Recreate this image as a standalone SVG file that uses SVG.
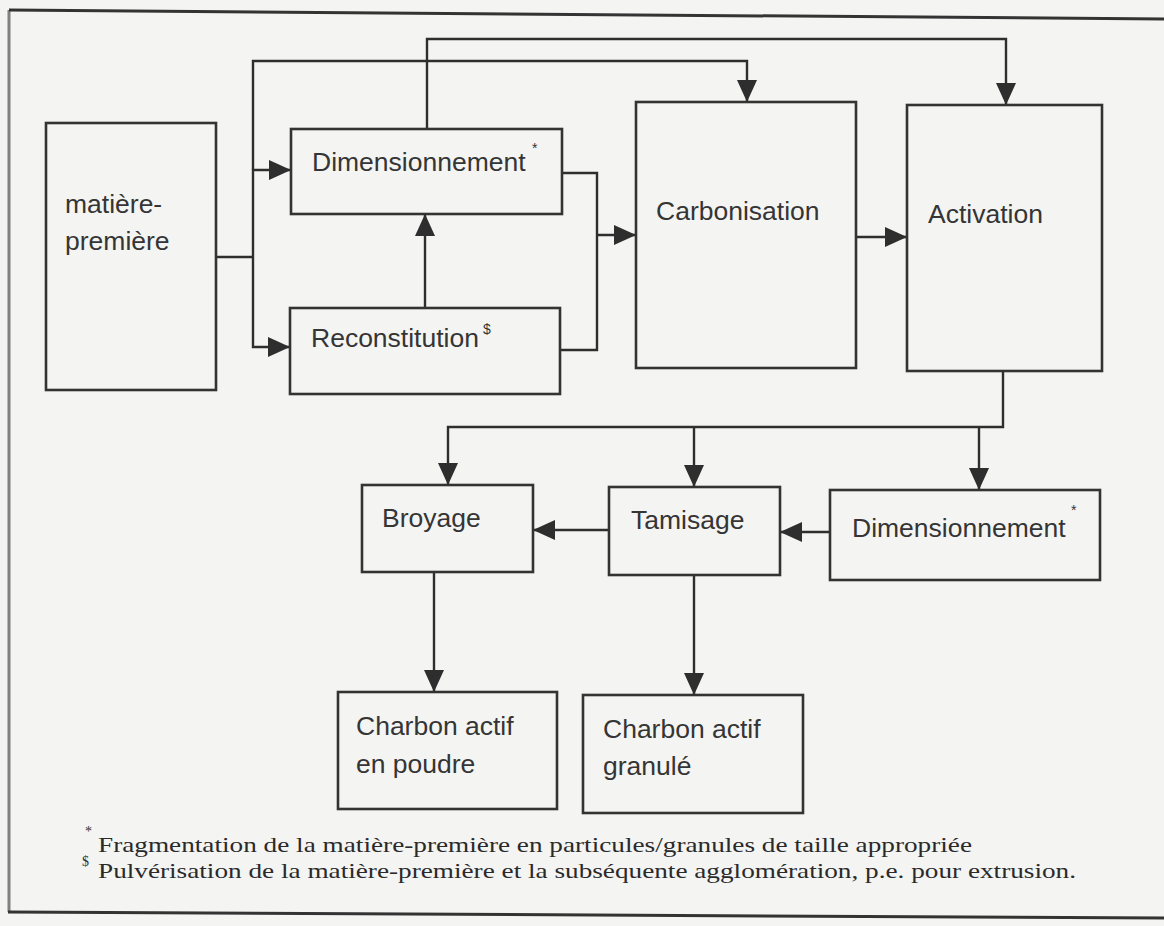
<svg xmlns="http://www.w3.org/2000/svg" width="1164" height="926" viewBox="0 0 1164 926">
<defs>
<marker id="ah" markerUnits="userSpaceOnUse" markerWidth="22" markerHeight="20" refX="22" refY="10" orient="auto">
<path d="M0,0 L22,10 L0,20 z" fill="#2e2e2e"/>
</marker>
<style>
.box{fill:none;stroke:#333;stroke-width:2.6}
.lbl{font-family:"Liberation Sans",Arial,sans-serif;font-size:26.5px;fill:#353535}
.sup{font-family:"Liberation Sans",Arial,sans-serif;font-size:14px;fill:#333}
.c{fill:none;stroke:#2e2e2e;stroke-width:2.4}
.a{marker-end:url(#ah)}
.fn{font-family:"Liberation Serif","Times New Roman",serif;font-size:22px;fill:#2a2a2a}
.fs{font-family:"Liberation Serif","Times New Roman",serif;font-size:14px;fill:#333}
.frame{stroke:#333;stroke-width:3;fill:none}
</style>
</defs>
<rect width="1164" height="926" fill="#f4f4f3"/>
<g id="frame">
<path class="frame" d="M9,10 L1164,19"/>
<path class="frame" d="M9,10 L9,912" stroke-opacity="0.6"/>
<path class="frame" d="M8,912 L1164,918"/>
</g>
<g id="connectors">
<path class="c" d="M216,257 H253"/>
<path class="c a" d="M253,257 V170 H291"/>
<path class="c a" d="M253,257 V347 H290"/>
<path class="c a" d="M253,170 V61 H747 V102"/>
<path class="c a" d="M427,129 V39 H1006 V105"/>
<path class="c a" d="M425,308 V214"/>
<path class="c" d="M562,173 H597 V350 H560"/>
<path class="c a" d="M597,235 H636"/>
<path class="c a" d="M856,237 H907"/>
<path class="c a" d="M1003,371 V427 H448 V485"/>
<path class="c a" d="M694,427 V487"/>
<path class="c a" d="M979,427 V490"/>
<path class="c a" d="M830,532 H780"/>
<path class="c a" d="M609,530 H533"/>
<path class="c a" d="M434,572 V692"/>
<path class="c a" d="M694,575 V695"/>
</g>
<g id="matiere">
<rect class="box" x="46" y="123" width="170" height="267"/>
<text class="lbl" x="65" y="213">matière-</text>
<text class="lbl" x="65" y="250">première</text>
</g>
<g id="dimensionnement1">
<rect class="box" x="291" y="129" width="271" height="85"/>
<text class="lbl" x="312" y="171">Dimensionnement</text>
<text class="sup" x="532" y="153">*</text>
</g>
<g id="reconstitution">
<rect class="box" x="290" y="308" width="270" height="86"/>
<text class="lbl" x="311" y="347">Reconstitution</text>
<text class="sup" x="483" y="334">$</text>
</g>
<g id="carbonisation">
<rect class="box" x="636" y="102" width="220" height="266"/>
<text class="lbl" x="656" y="220">Carbonisation</text>
</g>
<g id="activation">
<rect class="box" x="907" y="105" width="195" height="266"/>
<text class="lbl" x="928" y="223">Activation</text>
</g>
<g id="broyage">
<rect class="box" x="362" y="485" width="171" height="87"/>
<text class="lbl" x="382" y="527">Broyage</text>
</g>
<g id="tamisage">
<rect class="box" x="609" y="487" width="171" height="88"/>
<text class="lbl" x="631" y="529">Tamisage</text>
</g>
<g id="dimensionnement2">
<rect class="box" x="830" y="490" width="270" height="90"/>
<text class="lbl" x="852" y="537">Dimensionnement</text>
<text class="sup" x="1071" y="515">*</text>
</g>
<g id="charbon-poudre">
<rect class="box" x="338" y="692" width="219" height="117"/>
<text class="lbl" x="356" y="735">Charbon actif</text>
<text class="lbl" x="356" y="773">en poudre</text>
</g>
<g id="charbon-granule">
<rect class="box" x="583" y="695" width="220" height="118"/>
<text class="lbl" x="603" y="738">Charbon actif</text>
<text class="lbl" x="603" y="775">granulé</text>
</g>
<g id="footnotes">
<text class="fs" x="85" y="836">*</text>
<text class="fn" x="98" y="852" textLength="874" lengthAdjust="spacingAndGlyphs">Fragmentation de la matière-première en particules/granules de taille appropriée</text>
<text class="fs" x="82" y="866">$</text>
<text class="fn" x="98" y="878" textLength="978" lengthAdjust="spacingAndGlyphs">Pulvérisation de la matière-première et la subséquente agglomération, p.e. pour extrusion.</text>
</g>
</svg>
